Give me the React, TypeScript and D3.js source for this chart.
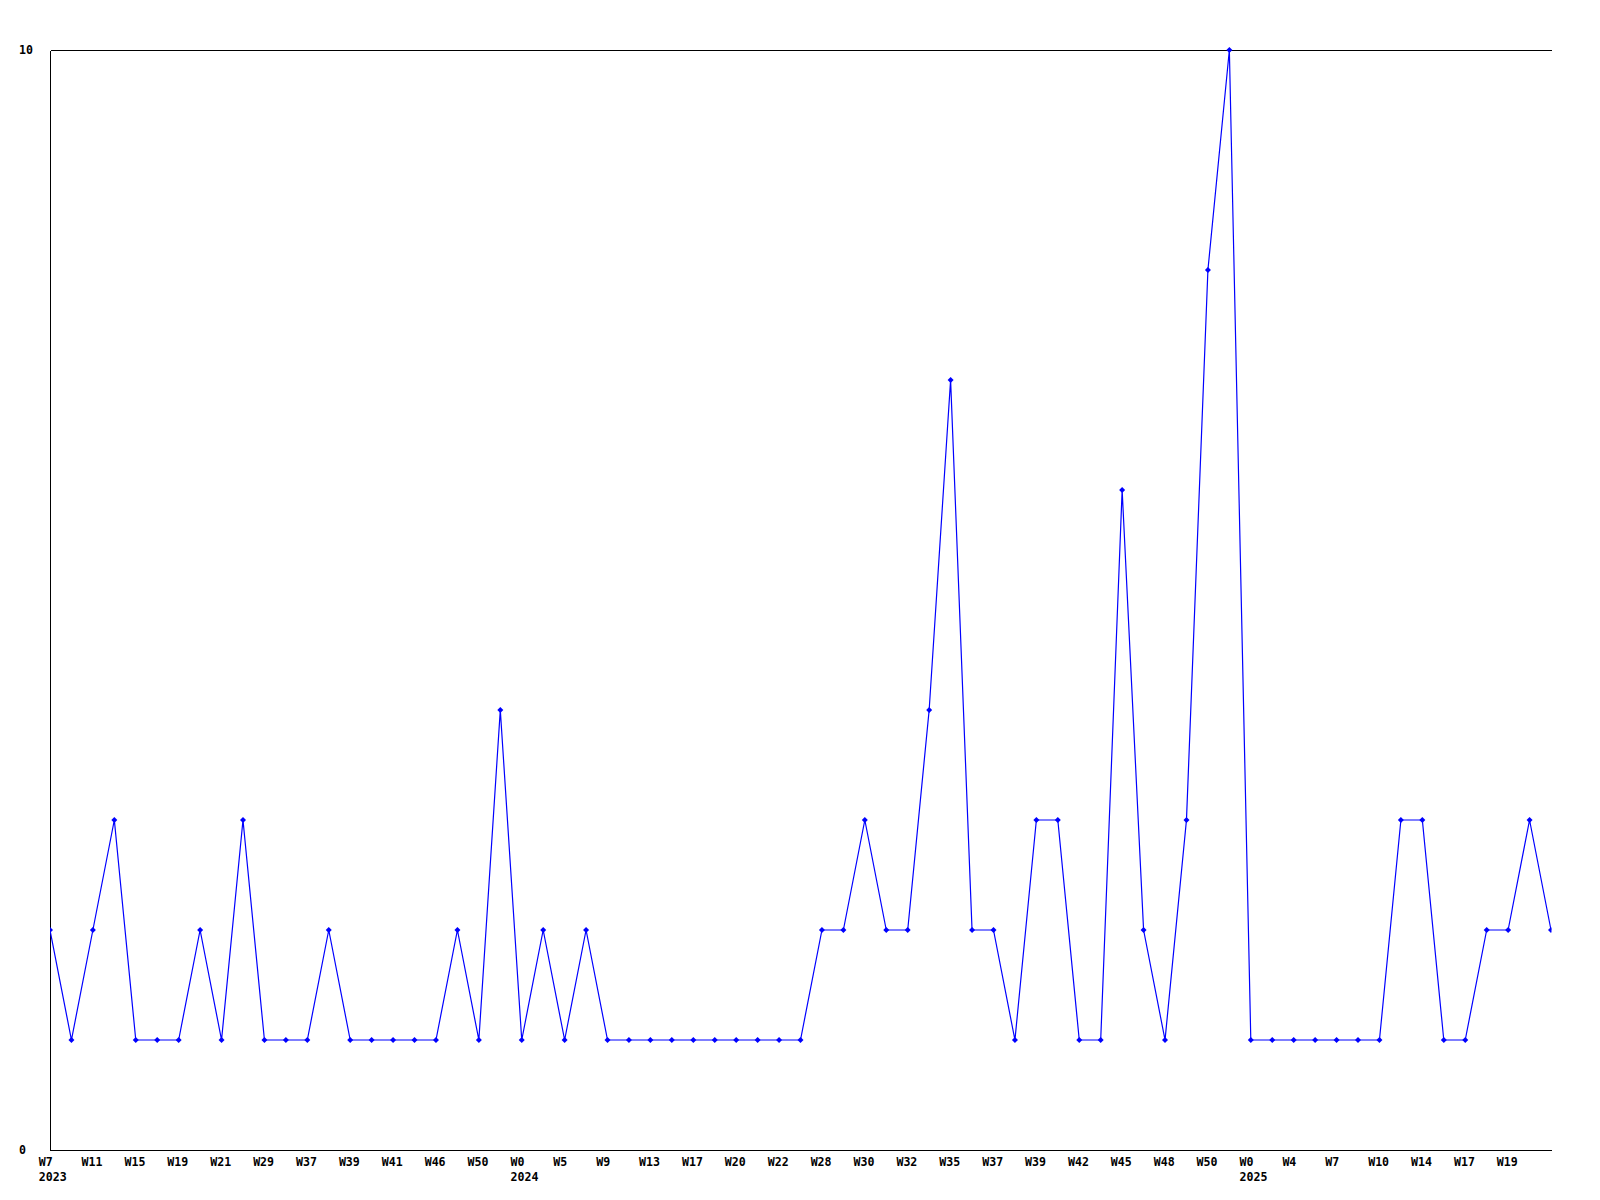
import React from "react";
import * as d3 from "d3";

const values: number[] = [
  2, 1, 2, 3, 1, 1, 1, 2, 1, 3,
  1, 1, 1, 2, 1, 1, 1, 1, 1, 2,
  1, 4, 1, 2, 1, 2, 1, 1, 1, 1,
  1, 1, 1, 1, 1, 1, 2, 2, 3, 2,
  2, 4, 7, 2, 2, 1, 3, 3, 1, 1,
  6, 2, 1, 3, 8, 10, 1, 1, 1, 1,
  1, 1, 1, 3, 3, 1, 1, 2, 2, 3,
  2,
];

// labels shown on every second point
const weekLabels: string[] = [
  "W7", "W11", "W15", "W19", "W21", "W29", "W37", "W39", "W41", "W46", "W50",
  "W0", "W5", "W9", "W13", "W17", "W20", "W22", "W28", "W30", "W32", "W35",
  "W37", "W39", "W42", "W45", "W48", "W50", "W0", "W4", "W7", "W10", "W14",
  "W17", "W19",
];
const yearLabelIndex: number[] = [0, 11, 28];
const yearLabels: string[] = ["2023", "2024", "2025"];
const yTicks: number[] = [0, 10];

const W = 1600;
const H = 1200;
const left = 50;
const right = 1551;
const top = 50;
const bottom = 1150;

export default function App() {
  const x = d3.scaleLinear().domain([0, values.length - 1]).range([left, right]);
  const y = d3.scaleLinear().domain([0, 10]).range([bottom, top]);
  const line = d3
    .line<number>()
    .x((_, i) => x(i))
    .y((d) => y(d));
  const font = "'DejaVu Sans Mono', monospace";
  return (
    <svg
      width={W}
      height={H}
      style={{ position: "absolute", left: 0, top: 0, background: "#fff" }}
    >
      <defs>
        <clipPath id="plot">
          <rect x={left} y={top - 5} width={right - left + 0.5} height={bottom - top + 10} />
        </clipPath>
      </defs>
      <rect x={0} y={0} width={W} height={H} fill="#fff" />
      <g shapeRendering="crispEdges" stroke="#000" strokeWidth={1}>
        <line x1={left + 0.5} y1={top + 0.5} x2={right + 0.5} y2={top + 0.5} />
        <line x1={left + 0.5} y1={top + 0.5} x2={left + 0.5} y2={bottom + 0.5} />
        <line x1={left + 0.5} y1={bottom + 0.5} x2={right + 0.5} y2={bottom + 0.5} />
      </g>
      <g clipPath="url(#plot)">
        <path d={line(values) || ""} fill="none" stroke="#0000ff" strokeWidth={1.2} />
        {values.map((v, i) => {
          const cx = x(i);
          const cy = y(v);
          return (
            <path
              key={i}
              d={`M${cx - 3},${cy}L${cx},${cy - 3}L${cx + 3},${cy}L${cx},${cy + 3}Z`}
              fill="#0000ff"
            />
          );
        })}
      </g>
      <g fontFamily={font} fontWeight="bold" fontSize={11.6} fill="#000">
        {yTicks.map((t) => (
          <text key={t} x={19} y={y(t) + 4}>
            {t}
          </text>
        ))}
        {weekLabels.map((lab, k) => {
          const px = x(k * 2);
          const sx = px - 11.3;
          const yi = yearLabelIndex.indexOf(k);
          return (
            <g key={k}>
              <text x={sx} y={1166}>
                {lab}
              </text>
              {yi >= 0 && (
                <text x={sx} y={1181}>
                  {yearLabels[yi]}
                </text>
              )}
            </g>
          );
        })}
      </g>
    </svg>
  );
}
